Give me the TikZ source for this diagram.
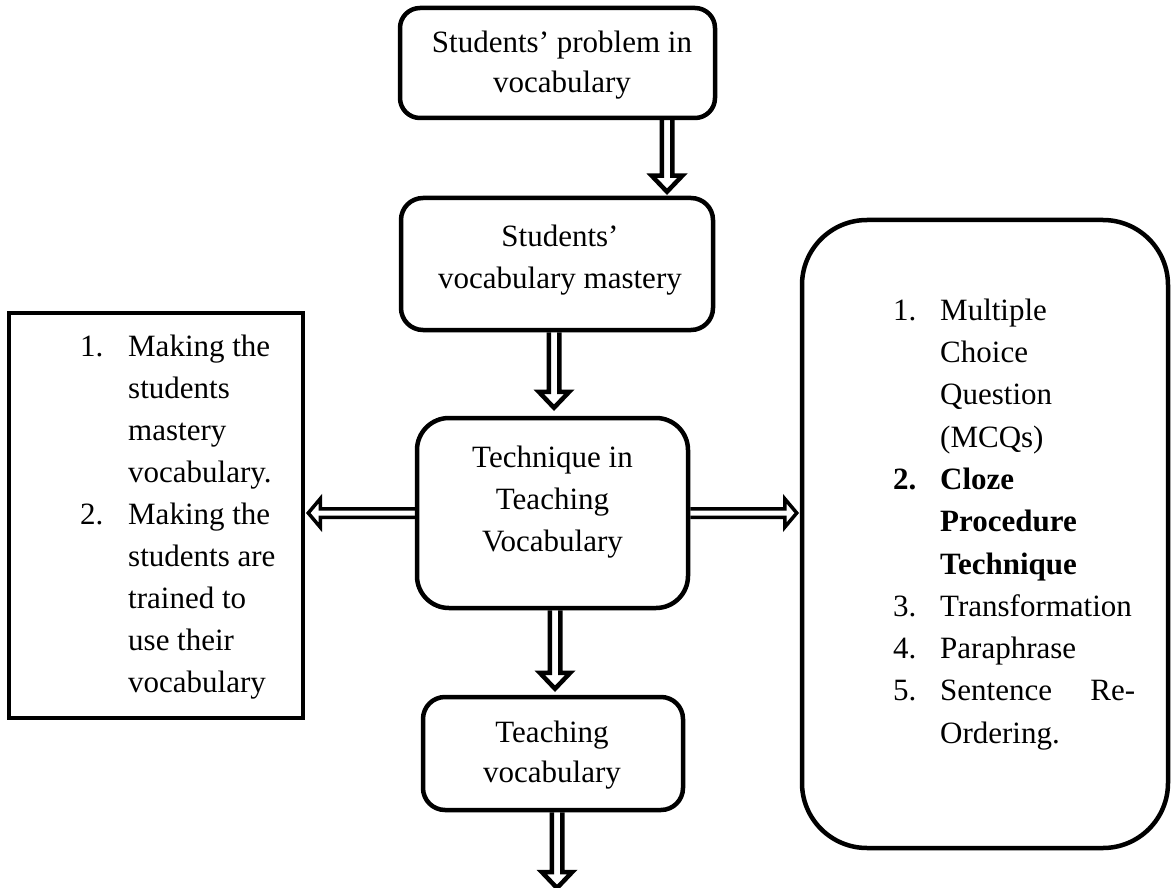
\documentclass[tikz,border=0pt]{standalone}
\usepackage{fontspec}
\setmainfont{Liberation Serif}
\usetikzlibrary{fit,backgrounds,calc}
\newcommand\txtL{\fontsize{31}{42}\selectfont}
\newcommand\txtR{\fontsize{31}{42.3}\selectfont}
\newcommand\txtS{\fontsize{31}{40}\selectfont}
\newcommand\txtN{\fontsize{31}{42}\selectfont}
% vertical block arrow: #1 start, #2 end, #3 gap before target
\newcommand\arrdown[3]{%
  \draw[blkv] let \p1=(#1), \p2=(#2) in
   (\x1-5.25pt,\y1) -- (\x1-5.25pt,\y2+#3+16pt) -- (\x1-15.25pt,\y2+#3+16pt)
   -- (\x1,\y2+#3) -- (\x1+15.25pt,\y2+#3+16pt) -- (\x1+5.25pt,\y2+#3+16pt)
   -- (\x1+5.25pt,\y1);}
\newcommand\arrleft[2]{%
  \draw[blkh] let \p1=(#1), \p2=(#2) in
   (\x1,\y1-4.25pt) -- (\x2+15pt,\y1-4.25pt) -- (\x2+15pt,\y1-14.25pt)
   -- (\x2+3pt,\y1) -- (\x2+15pt,\y1+14.25pt) -- (\x2+15pt,\y1+4.25pt)
   -- (\x1,\y1+4.25pt);}
\newcommand\arrright[2]{%
  \draw[blkh] let \p1=(#1), \p2=(#2) in
   (\x1,\y1-4.25pt) -- (\x2-15pt,\y1-4.25pt) -- (\x2-15pt,\y1-14.25pt)
   -- (\x2-3pt,\y1) -- (\x2-15pt,\y1+14.25pt) -- (\x2-15pt,\y1+4.25pt)
   -- (\x1,\y1+4.25pt);}
\begin{document}
\begin{tikzpicture}[x=1pt,y=-1pt,
  box/.style={draw, line width=4.5pt, fill=white, inner sep=0pt},
  txt/.style={inner sep=0pt, align=center},
  lst/.style={inner sep=0pt, align=left, anchor=north west},
  blkv/.style={draw, fill=white, line width=4.5pt, line join=miter},
  blkh/.style={draw, fill=white, line width=3.5pt, line join=miter}]
\useasboundingbox (0,0) rectangle (1171,888);

% boxes
\node[box, rounded corners=20pt, fit={(400,8)(715,118)}] (p1) {};
\node[box, rounded corners=22pt, fit={(401,198)(713,330)}] (p2) {};
\node[box, rounded corners=32pt, fit={(417,418)(688,608)}] (p3) {};
\node[box, rounded corners=22pt, fit={(423,697)(683,810)}] (p4) {};
\node[box, fit={(9,313)(303,718)}] (lb) {};
\node[box, rounded corners=65pt, fit={(802,220)(1168,848)}] (rb) {};

% texts
\node[txt, font=\txtS] (p1t) at (562,65) {\strut Students’ problem in\\\strut vocabulary};
\node[txt, font=\txtN] (p2t) at (560,259) {\strut Students’\\\strut vocabulary mastery};
\node[txt, font=\txtL] (p3t) at (552.5,500.6) {\strut Technique in\\\strut Teaching\\\strut Vocabulary};
\node[txt, font=\txtS] (p4t) at (552,754) {\strut Teaching\\\strut vocabulary};

\node[lst, font=\txtL] (lbt) at (80,326.6) {%
\strut\makebox[48pt][l]{1.}Making the\\
\strut\hspace*{48pt}students\\
\strut\hspace*{48pt}mastery\\
\strut\hspace*{48pt}vocabulary.\\
\strut\makebox[48pt][l]{2.}Making the\\
\strut\hspace*{48pt}students are\\
\strut\hspace*{48pt}trained to\\
\strut\hspace*{48pt}use their\\
\strut\hspace*{48pt}vocabulary};

\node[lst, font=\txtR] (rbt) at (893,290.4) {%
\strut\makebox[47pt][l]{1.}Multiple\\
\strut\hspace*{47pt}Choice\\
\strut\hspace*{47pt}Question\\
\strut\hspace*{47pt}(MCQs)\\
\strut\makebox[47pt][l]{\textbf{2.}}\textbf{Cloze}\\
\strut\hspace*{47pt}\textbf{Procedure}\\
\strut\hspace*{47pt}\textbf{Technique}\\
\strut\makebox[47pt][l]{3.}Transformation\\
\strut\makebox[47pt][l]{4.}Paraphrase\\
\strut\makebox[47pt][l]{5.}\makebox[195pt]{Sentence\hfill Re-}\\
\strut\hspace*{47pt}Ordering.};

% arrow guide coordinates
\coordinate (ax1) at (667,0);
\coordinate (ax2) at (554,0);
\coordinate (ax3) at (555,0);
\coordinate (ax4) at (557,0);
\coordinate (ay) at (0,513);
\coordinate (bot) at (557,888);

\begin{pgfonlayer}{background}
\arrdown{p1.south -| ax1}{p2.north -| ax1}{4pt}
\arrdown{p2.south -| ax2}{p3.north -| ax2}{8pt}
\arrdown{p3.south -| ax3}{p4.north -| ax3}{6pt}
\arrdown{p4.south -| ax4}{bot}{0pt}
\arrleft{p3.west |- ay}{lb.east |- ay}
\arrright{p3.east |- ay}{rb.west |- ay}
\end{pgfonlayer}
\end{tikzpicture}
\end{document}
